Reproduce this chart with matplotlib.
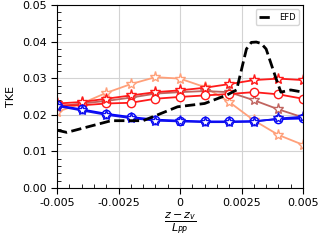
import numpy as np
import matplotlib.pyplot as plt
from matplotlib.ticker import MultipleLocator

# positions along the hull (z - z_v)/L_PP
x_cfd = [-0.005, -0.004, -0.003, -0.002, -0.001, 0.0, 0.001, 0.002, 0.003, 0.004, 0.005]

red_star = [0.0231, 0.0235, 0.0244, 0.0253, 0.0262, 0.0267, 0.0274, 0.0284, 0.0295, 0.0299, 0.0295]
red_circle = [0.0226, 0.0226, 0.0231, 0.0233, 0.0244, 0.0249, 0.0253, 0.0257, 0.0262, 0.0256, 0.0244]
brown_star = [0.0222, 0.0231, 0.0238, 0.0247, 0.0258, 0.0262, 0.0265, 0.0262, 0.0240, 0.0215, 0.0193]
peach_star = [0.0208, 0.0231, 0.0260, 0.0284, 0.0303, 0.0299, 0.0276, 0.0235, 0.0185, 0.0145, 0.0118]
blue_circle = [0.0226, 0.0215, 0.0203, 0.0194, 0.0187, 0.0184, 0.0182, 0.0182, 0.0183, 0.0188, 0.0190]
blue_star = [0.0224, 0.0212, 0.0200, 0.0191, 0.0184, 0.0182, 0.0180, 0.0180, 0.0181, 0.0190, 0.0195]

x_efd = [-0.005, -0.0046, -0.0028, -0.0015, -0.0001, 0.001, 0.0019, 0.0023, 0.0027,
         0.0029, 0.0031, 0.0033, 0.0035, 0.0039, 0.0041, 0.0045, 0.005]
efd = [0.0158, 0.0152, 0.0184, 0.0184, 0.0222, 0.0231, 0.0254, 0.0268, 0.0380,
       0.0398, 0.0399, 0.0395, 0.0380, 0.0300, 0.0262, 0.0268, 0.0262]

xticks = [-0.005, -0.0025, 0.0, 0.0025, 0.005]
xticklabels = ["-0.005", "-0.0025", "0", "0.0025", "0.005"]
yticks = [0.00, 0.01, 0.02, 0.03, 0.04, 0.05]
yticklabels = ["0.00", "0.01", "0.02", "0.03", "0.04", "0.05"]

fig = plt.figure(figsize=(3.21, 2.42), dpi=100)
ax = fig.add_axes([0.1776, 0.2231, 0.7664, 0.7559])

kw = dict(markerfacecolor="white", markeredgewidth=1.0, linewidth=1.3)
ax.plot(x_cfd, peach_star, "-*", color="#ffa07a", markersize=8, **kw)
ax.plot(x_cfd, brown_star, "-*", color="#c0645f", markersize=8, **kw)
ax.plot(x_cfd, red_circle, "-o", color="#ff1a1a", markersize=6, **kw)
ax.plot(x_cfd, red_star, "-*", color="#ff1a1a", markersize=8, **kw)
ax.plot(x_cfd, blue_circle, "-o", color="#0000ff", markersize=6, **kw)
ax.plot(x_cfd, blue_star, "-*", color="#1010ee", markersize=8, **kw)
ax.plot(x_efd, efd, "--", color="k", linewidth=2, label="EFD")

ax.set_xlim(-0.005, 0.005)
ax.set_ylim(0.0, 0.05)
ax.set_xticks(xticks)
ax.set_xticklabels(xticklabels)
ax.set_yticks(yticks)
ax.set_yticklabels(yticklabels)
ax.xaxis.set_minor_locator(MultipleLocator(0.0005))
ax.yaxis.set_minor_locator(MultipleLocator(0.002))
ax.tick_params(which="major", direction="out", length=4, labelsize=8)
ax.tick_params(which="minor", direction="in", length=3)
ax.grid(True, which="major", color="#d3d3d3", linewidth=0.8)
ax.set_axisbelow(True)

ax.set_ylabel("TKE", fontsize=8)
ax.set_xlabel(r"$\dfrac{z-z_v}{L_{PP}}$", fontsize=8, labelpad=2)
ax.legend(loc="upper right", fontsize=6, handlelength=1.6)

fig.savefig("out.png", dpi=100)
